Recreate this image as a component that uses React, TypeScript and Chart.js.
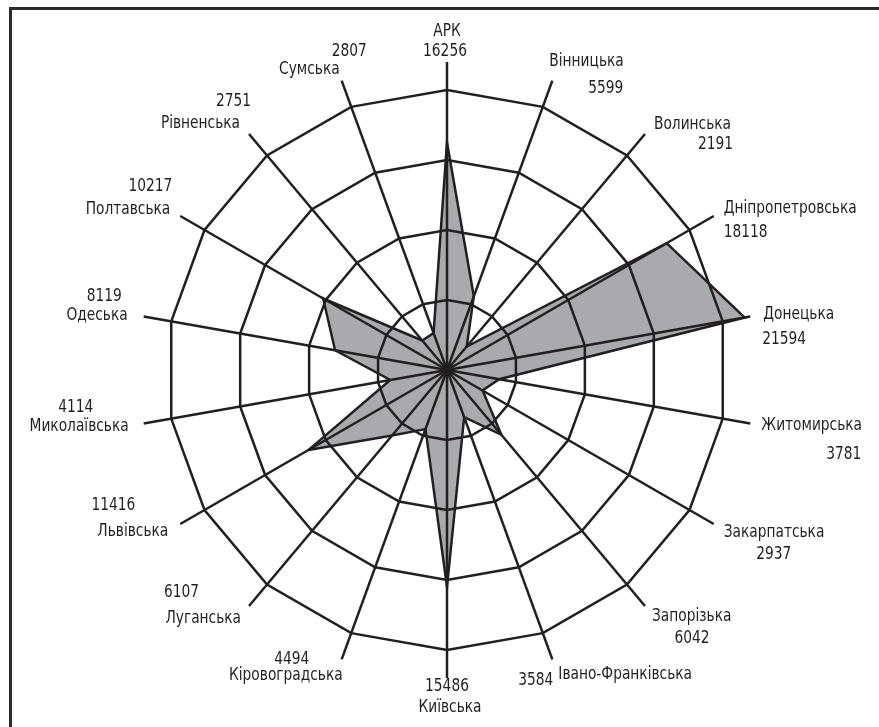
import React, { useEffect, useRef } from "react";
import { Chart, registerables } from "chart.js";

Chart.register(...registerables);

// ---- data ----
const regions: string[] = [
  "АРК",
  "Вінницька",
  "Волинська",
  "Дніпропетровська",
  "Донецька",
  "Житомирська",
  "Закарпатська",
  "Запорізька",
  "Івано-Франківська",
  "Київська",
  "Кіровоградська",
  "Луганська",
  "Львівська",
  "Миколаївська",
  "Одеська",
  "Полтавська",
  "Рівненська",
  "Сумська",
];

const values: number[] = [
  16256, 5599, 2191, 18118, 21594, 3781, 2937, 6042, 3584, 15486, 4494, 6107,
  11416, 4114, 8119, 10217, 2751, 2807,
];

const ringTicks: number[] = [5000, 10000, 15000, 20000];
const axisMax = 22000;

// ---- label layout: [dx, dy, align] offsets from each spoke's outer end ----
type Place = [number, number, CanvasTextAlign];
const nameLayout: Place[] = [
  [0, -30, "center"],
  [-3, -19, "left"],
  [9, -9, "left"],
  [10, -7, "left"],
  [13, -2, "left"],
  [11, 2, "left"],
  [10, 9, "left"],
  [7, 11, "left"],
  [6, 15, "left"],
  [3, 30, "center"],
  [1, 16, "right"],
  [-8, 13, "right"],
  [-12, 8, "right"],
  [-15, 3, "right"],
  [-16, -1, "right"],
  [-10, -6, "right"],
  [-9, -10, "right"],
  [-2, -11, "right"],
];
const valueLayout: Place[] = [
  [-2, -10, "center"],
  [71, 8, "right"],
  [88, 11, "right"],
  [10, 17, "left"],
  [12, 23, "left"],
  [111, 31, "right"],
  [60, 31, "center"],
  [47, 33, "center"],
  [1, 21, "right"],
  [0, 9, "center"],
  [-50, 0, "center"],
  [-85, -13, "left"],
  [-45, -18, "right"],
  [-68, -16, "center"],
  [-22, -20, "right"],
  [-8, -29, "right"],
  [2, -32, "right"],
  [25, -29, "right"],
];

const INK = "#231f20";
const FILL = "#a8aaad";
const FONT =
  '17px "Liberation Sans Narrow", "DejaVu Sans Condensed", "Open Sans", sans-serif';
const TEXT_SQUEEZE = 0.9;

function drawText(
  ctx: CanvasRenderingContext2D,
  text: string,
  x: number,
  y: number,
  align: CanvasTextAlign
) {
  ctx.save();
  ctx.translate(x, y);
  ctx.scale(TEXT_SQUEEZE, 1);
  ctx.textAlign = align;
  ctx.fillText(text, 0, 0);
  ctx.restore();
}

const labelPlugin = {
  id: "spokeLabels",
  afterDraw(chart: any) {
    const scale = chart.scales.r;
    const ctx: CanvasRenderingContext2D = chart.ctx;
    ctx.save();
    ctx.font = FONT;
    ctx.fillStyle = INK;
    ctx.textBaseline = "middle";
    regions.forEach((name, i) => {
      const p = scale.getPointPositionForValue(i, scale.max);
      const n = nameLayout[i];
      drawText(ctx, name, p.x + n[0], p.y + n[1], n[2]);
      const v = valueLayout[i];
      drawText(ctx, String(values[i]), p.x + v[0], p.y + v[1], v[2]);
    });
    ctx.restore();
  },
};

export default function App() {
  const ref = useRef<HTMLCanvasElement | null>(null);

  useEffect(() => {
    if (!ref.current) return;
    const chart = new Chart(ref.current, {
      type: "radar",
      data: {
        labels: regions,
        datasets: [
          {
            data: values,
            backgroundColor: FILL,
            borderColor: INK,
            borderWidth: 2.5,
            borderJoinStyle: "miter",
            fill: true,
            pointRadius: 0,
            pointHoverRadius: 0,
          },
        ],
      },
      options: {
        animation: false,
        responsive: false,
        events: [],
        layout: { padding: { left: 139, right: 124, top: 62, bottom: 49 } },
        plugins: {
          legend: { display: false },
          tooltip: { enabled: false },
          title: { display: false },
        },
        scales: {
          r: {
            min: 0,
            max: axisMax,
            afterBuildTicks: (scale: any) => {
              scale.ticks = [{ value: 0 }, ...ringTicks.map((v) => ({ value: v }))];
            },
            ticks: { display: false },
            pointLabels: { display: false },
            grid: { color: INK, lineWidth: 2.5, z: 1 },
            angleLines: { color: INK, lineWidth: 2.5 },
          },
        },
      },
      plugins: [labelPlugin],
    });
    return () => chart.destroy();
  }, []);

  return (
    <div
      style={{
        position: "absolute",
        left: 0,
        top: 0,
        width: 879,
        height: 727,
        overflow: "hidden",
        background: "#ffffff",
      }}
    >
      <div
        style={{
          position: "absolute",
          left: 9,
          top: 7,
          width: 1000,
          height: 1000,
          border: "3px solid #2b2b2b",
        }}
      />
      <canvas
        ref={ref}
        width={879}
        height={727}
        style={{ position: "absolute", left: 0, top: 0, width: 879, height: 727 }}
      />
    </div>
  );
}
